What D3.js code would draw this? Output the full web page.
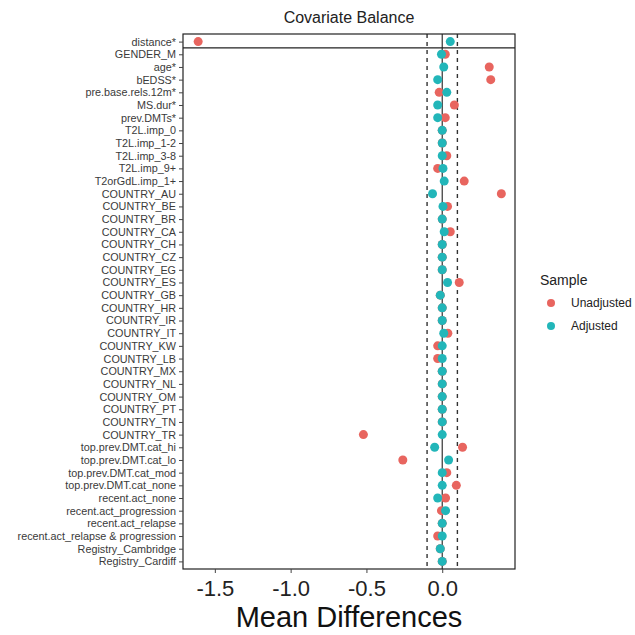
<!DOCTYPE html>
<html>
<head>
<meta charset="utf-8">
<script src="https://cdn.jsdelivr.net/npm/d3@7"></script>
<style>
  body { margin: 0; background: #fff; }
  text { font-family: "Liberation Sans", Arial, sans-serif; }
</style>
</head>
<body>
<div id="chart"></div>
<script>
// covariates, top to bottom
var covariates = ["distance*", "GENDER_M", "age*", "bEDSS*", "pre.base.rels.12m*", "MS.dur*", "prev.DMTs*",
  "T2L.imp_0", "T2L.imp_1-2", "T2L.imp_3-8", "T2L.imp_9+", "T2orGdL.imp_1+",
  "COUNTRY_AU", "COUNTRY_BE", "COUNTRY_BR", "COUNTRY_CA", "COUNTRY_CH", "COUNTRY_CZ", "COUNTRY_EG",
  "COUNTRY_ES", "COUNTRY_GB", "COUNTRY_HR", "COUNTRY_IR", "COUNTRY_IT", "COUNTRY_KW", "COUNTRY_LB",
  "COUNTRY_MX", "COUNTRY_NL", "COUNTRY_OM", "COUNTRY_PT", "COUNTRY_TN", "COUNTRY_TR",
  "top.prev.DMT.cat_hi", "top.prev.DMT.cat_lo", "top.prev.DMT.cat_mod", "top.prev.DMT.cat_none",
  "recent.act_none", "recent.act_progression", "recent.act_relapse", "recent.act_relapse & progression",
  "Registry_Cambridge", "Registry_Cardiff"]

var unadjusted = [-1.61, 0.02, 0.31, 0.32, -0.02, 0.08, 0.02,
  0, 0, 0.03, -0.03, 0.145,
  0.39, 0.035, 0, 0.053, 0, 0, 0,
  0.112, -0.013, 0, 0, 0.037, -0.03, -0.03,
  0, 0, 0, 0, 0, -0.52,
  0.134, -0.26, 0.03, 0.093,
  0.022, -0.005, 0, -0.03,
  -0.013, 0]

var adjusted = [0.053, -0.005, 0.01, -0.03, 0.03, -0.03, -0.03,
  0, 0, 0, 0.005, 0.013,
  -0.064, 0.005, 0, 0.013, 0, 0, 0,
  0.035, -0.013, 0, 0, 0.01, 0, 0,
  0, 0, 0, 0, 0, 0,
  -0.05, 0.042, 0, 0,
  -0.03, 0.022, 0, 0,
  -0.013, 0]

var xTicks = [-1.5, -1.0, -0.5, 0.0]
var threshold = 0.1
var sampleNames = ["Unadjusted", "Adjusted"]
var sampleColors = ["#e8655f", "#22b6b9"]

var W = 635, H = 635
var pLeft = 183, pRight = 515, pTop = 34, pBottom = 569

var svg = d3.select("#chart").append("svg")
  .attr("width", W)
  .attr("height", H)

var x = d3.scaleLinear().domain([-1.71, 0.48]).range([pLeft, pRight])
var y = d3.scalePoint().domain(covariates).range([pTop, pBottom]).padding(0.6)
var step = y.step()

// dashed threshold lines
;[-threshold, threshold].forEach(function(t){
  svg.append("line")
    .attr("x1", x(t)).attr("x2", x(t))
    .attr("y1", pTop).attr("y2", pBottom)
    .attr("stroke", "#333")
    .attr("stroke-width", 1.4)
    .attr("stroke-dasharray", "4,4")
})

// zero line
svg.append("line")
  .attr("x1", x(0)).attr("x2", x(0))
  .attr("y1", pTop).attr("y2", pBottom)
  .attr("stroke", "#333")
  .attr("stroke-width", 1.2)

// separator under distance row
svg.append("line")
  .attr("x1", pLeft).attr("x2", pRight)
  .attr("y1", y(covariates[0]) + step / 2).attr("y2", y(covariates[0]) + step / 2)
  .attr("stroke", "#222")
  .attr("stroke-width", 1.2)

// points: unadjusted first, adjusted on top
var series = [unadjusted, adjusted]
series.forEach(function(vals, s){
  svg.append("g").selectAll("circle")
    .data(vals)
    .enter()
    .append("circle")
    .attr("cx", function(d){ return x(d) })
    .attr("cy", function(d, i){ return y(covariates[i]) })
    .attr("r", 4.5)
    .attr("fill", sampleColors[s])
})

// panel border
svg.append("rect")
  .attr("x", pLeft).attr("y", pTop)
  .attr("width", pRight - pLeft).attr("height", pBottom - pTop)
  .attr("fill", "none")
  .attr("stroke", "#222")
  .attr("stroke-width", 1.2)

// y axis
var yAxis = svg.append("g")
  .attr("transform", "translate(" + pLeft + ",0)")
  .call(d3.axisLeft(y).tickSize(4).tickPadding(3))
yAxis.select(".domain").remove()
yAxis.selectAll("line").attr("stroke", "#444")
yAxis.selectAll("text")
  .attr("fill", "#3a3a3a")
  .style("font-size", "10.8px")
  .style("font-family", "'Liberation Sans', Arial, sans-serif")

// x axis
var xAxis = svg.append("g")
  .attr("transform", "translate(0," + pBottom + ")")
  .call(d3.axisBottom(x).tickValues(xTicks)
    .tickFormat(function(d){ return d.toFixed(1) })
    .tickSize(4).tickPadding(7))
xAxis.select(".domain").remove()
xAxis.selectAll("line").attr("stroke", "#444")
xAxis.selectAll("text")
  .attr("fill", "#222")
  .style("font-size", "22px")
  .style("font-family", "'Liberation Sans', Arial, sans-serif")

svg.append("text")
  .attr("x", (pLeft + pRight) / 2)
  .attr("y", 627)
  .attr("text-anchor", "middle")
  .attr("fill", "#111")
  .style("font-size", "29px")
  .text("Mean Differences")

svg.append("text")
  .attr("x", (pLeft + pRight) / 2)
  .attr("y", 23)
  .attr("text-anchor", "middle")
  .attr("fill", "#222")
  .style("font-size", "16px")
  .text("Covariate Balance")

// legend
var legend = svg.append("g").attr("transform", "translate(540,0)")
legend.append("text")
  .attr("x", 0).attr("y", 285)
  .attr("fill", "#222")
  .style("font-size", "14px")
  .text("Sample")
sampleNames.forEach(function(name, i){
  legend.append("circle")
    .attr("cx", 11).attr("cy", 303 + i * 23)
    .attr("r", 4)
    .attr("fill", sampleColors[i])
  legend.append("text")
    .attr("x", 31).attr("y", 307 + i * 23)
    .attr("fill", "#222")
    .style("font-size", "12px")
    .text(name)
})
</script>
</body>
</html>
